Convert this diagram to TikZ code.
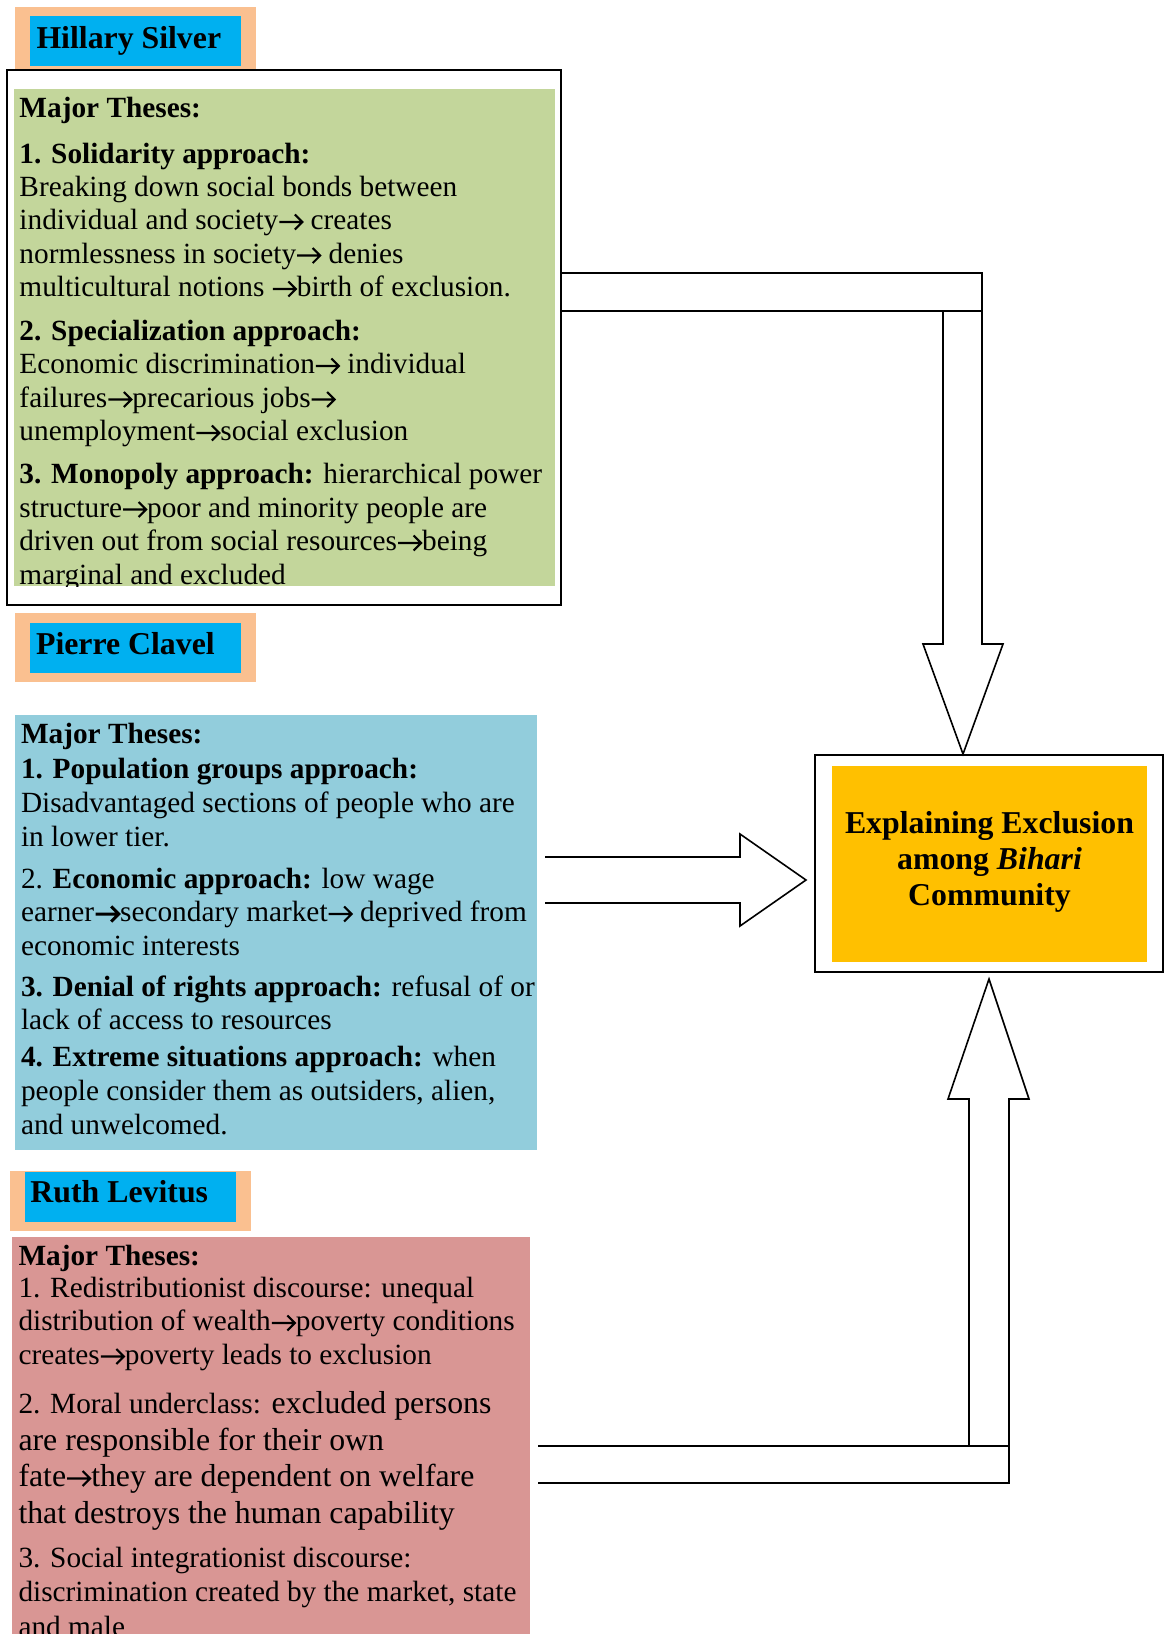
\documentclass[tikz,border=0pt]{standalone}
\usepackage{fontspec}
\setmainfont{Liberation Serif}
\definecolor{peach}{HTML}{FAC090}
\definecolor{titleblue}{HTML}{00B0F0}
\definecolor{olive}{HTML}{C3D69B}
\definecolor{aqua}{HTML}{92CDDC}
\definecolor{rose}{HTML}{D99694}
\definecolor{gold}{HTML}{FFC000}
\newsavebox\arrbox
\newsavebox\arrboxb
\newcommand{\makearrow}[1]{%
  \begin{pgfpicture}%
  \pgfsetlinewidth{#1}\pgfsetmiterjoin\pgfsetbuttcap
  \pgfpathmoveto{\pgfpoint{0pt}{7.5pt}}\pgfpathlineto{\pgfpoint{23pt}{7.5pt}}%
  \pgfpathmoveto{\pgfpoint{15.5pt}{15pt}}\pgfpathlineto{\pgfpoint{23pt}{7.5pt}}\pgfpathlineto{\pgfpoint{15.5pt}{0pt}}%
  \pgfusepath{stroke}%
  \pgfsetbaseline{0pt}%
  \end{pgfpicture}}
\newcommand{\rarr}{\usebox\arrbox}
\newcommand{\rarrb}{\usebox\arrboxb}
\begin{document}
\begin{tikzpicture}[x=1pt,y=-1pt]
\pgfinterruptboundingbox
\global\sbox\arrbox{\makearrow{2.1pt}}%
\global\sbox\arrboxb{\makearrow{3pt}}%
\endpgfinterruptboundingbox
\tikzset{
 blk/.style={inner sep=0pt, outer sep=0pt, anchor=north west, draw=none},
 txt/.style={inner sep=0pt, anchor=base west, font=\fontsize{29.3}{33.7}\selectfont},
 bigtxt/.style={inner sep=0pt, anchor=base west, font=\fontsize{31.8}{36.6}\selectfont},
 ttl/.style={inner sep=0pt, anchor=base west, font=\fontsize{31.8}{36.6}\selectfont\bfseries},
 ctr/.style={inner sep=0pt, anchor=base, font=\fontsize{31.8}{36.6}\selectfont\bfseries},
 barrow/.style={draw=black, line width=1.6pt, line join=miter, fill=white},
}
\useasboundingbox (0,0) rectangle (1164,1634);
\fill[white] (0,0) rectangle (1164,1634);

% ---------- Hillary Silver ----------
\node[blk, fill=peach, minimum width=241pt, minimum height=63pt] (hsO) at (15,7) {};
\node[blk, fill=titleblue, minimum width=211pt, minimum height=50pt] (hsB) at (30,16) {};
\node[ttl] (hsT) at (35,48) {Hillary Silver};
\node[blk, draw=black, line width=2pt, minimum width=554pt, minimum height=535pt] (frame) at (7,70) {};
\node[blk, fill=olive, minimum width=541pt, minimum height=497pt] (green) at (14,89) {};
\begin{scope}
\clip (14,89) rectangle (555,586);
\node[txt] (g1) at (18,117) {\textbf{Major Theses:}};
\node[txt] (g2) at (18,163) {\textbf{1. Solidarity approach:}};
\node[txt] (g3) at (18,196) {Breaking down social bonds between};
\node[txt] (g4) at (18,229.5) {individual and society\rarr{} creates};
\node[txt] (g5) at (18,263) {normlessness in society\rarr{} denies};
\node[txt] (g6) at (18,296.5) {multicultural notions \rarr birth of exclusion.};
\node[txt] (g7) at (18,340.5) {\textbf{2. Specialization approach:}};
\node[txt] (g8) at (18,373.5) {Economic discrimination\rarr{} individual};
\node[txt] (g9) at (18,407) {failures\rarr precarious jobs\rarr};
\node[txt] (g10) at (18,440.5) {unemployment\rarr social exclusion};
\node[txt] (g11) at (18,483.5) {\textbf{3. Monopoly approach:} hierarchical power};
\node[txt] (g12) at (18,517) {structure\rarr poor and minority people are};
\node[txt] (g13) at (18,550.5) {driven out from social resources\rarr being};
\node[txt] (g14) at (18,584) {marginal and excluded};
\end{scope}

% ---------- Pierre Clavel ----------
\node[blk, fill=peach, minimum width=241pt, minimum height=69pt] (pcO) at (15,613) {};
\node[blk, fill=titleblue, minimum width=211pt, minimum height=49.5pt] (pcB) at (30,623) {};
\node[ttl] (pcT) at (34.6,654) {Pierre Clavel};
\node[blk, fill=aqua, minimum width=522pt, minimum height=435pt] (aquabox) at (15,715) {};
\node[txt] (b1) at (19.5,743) {\textbf{Major Theses:}};
\node[txt] (b2) at (19.5,778.5) {\textbf{1. Population groups approach:}};
\node[txt] (b3) at (19.5,812.5) {Disadvantaged sections of people who are};
\node[txt] (b4) at (19.5,846) {in lower tier.};
\node[txt] (b5) at (19.5,888) {2. \textbf{Economic approach:} low wage};
\node[txt] (b6) at (19.5,921.5) {earner\rarrb secondary market\rarr{} deprived from};
\node[txt] (b7) at (19.5,955) {economic interests};
\node[txt] (b8) at (19.5,996) {\textbf{3. Denial of rights approach:} refusal of or};
\node[txt] (b9) at (19.5,1029) {lack of access to resources};
\node[txt] (b10) at (19.5,1066) {\textbf{4. Extreme situations approach:} when};
\node[txt] (b11) at (19.5,1100) {people consider them as outsiders, alien,};
\node[txt] (b12) at (19.5,1134) {and unwelcomed.};

% ---------- Ruth Levitus ----------
\node[blk, fill=peach, minimum width=241pt, minimum height=60pt] (rlO) at (10,1171) {};
\node[blk, fill=titleblue, minimum width=211pt, minimum height=50pt] (rlB) at (25,1172) {};
\node[ttl] (rlT) at (29,1202) {Ruth Levitus};
\node[blk, fill=rose, minimum width=518pt, minimum height=400pt] (rosebox) at (12,1237) {};
\node[txt] (r1) at (17,1265) {\textbf{Major Theses:}};
\node[txt] (r2) at (17,1297) {1. Redistributionist discourse: unequal};
\node[txt] (r3) at (17,1330.5) {distribution of wealth\rarr poverty conditions};
\node[txt] (r4) at (17,1364) {creates\rarr poverty leads to exclusion};
\node[bigtxt] (r5) at (17,1413) {{\fontsize{29.3}{33.7}\selectfont 2. Moral underclass:} excluded persons};
\node[bigtxt] (r6) at (17,1450) {are responsible for their own};
\node[bigtxt] (r7) at (17,1486) {fate\rarr they are dependent on welfare};
\node[bigtxt] (r8) at (17,1523) {that destroys the human capability};
\node[txt] (r9) at (17,1567) {3. Social integrationist discourse:};
\node[txt] (r10) at (17,1601.5) {discrimination created by the market, state};
\node[txt] (r11) at (17,1636) {and male};

% ---------- Result ----------
\node[blk, draw=black, line width=1.8pt, minimum width=348pt, minimum height=217pt] (result) at (815,755) {};
\node[blk, fill=gold, minimum width=315pt, minimum height=196pt] (resfill) at (832,766) {};
\node[ctr] (e1) at (989.5,833) {Explaining Exclusion};
\node[ctr] (e2) at (989.5,869) {among \textit{Bihari}};
\node[ctr] (e3) at (989.5,905) {Community};

% ---------- Block arrows ----------
\coordinate (tipA) at (963,754);
\coordinate (tipB) at (806,880);
\coordinate (tipC) at (989,979);
% top arrow (from Silver frame down to result)
\draw[barrow] (frame.east |- 0,273) -- (982,273) -- (982,644) -- (1003,644) -- (tipA) -- (923,644) -- (943,644) -- (943,311);
\draw[barrow] (frame.east |- 0,311) -- (982,311);
% middle arrow (from Clavel box to result)
\draw[barrow] (545,857) -- (740,857) -- (740,834) -- (tipB) -- (740,926) -- (740,903) -- (545,903);
% bottom arrow (from Levitus box up to result)
\draw[barrow] (538,1483) -- (1009,1483) -- (1009,1099) -- (1029,1099) -- (tipC) -- (948,1099) -- (969,1099) -- (969,1446);
\draw[barrow] (538,1446) -- (1009,1446);
\end{tikzpicture}
\end{document}
